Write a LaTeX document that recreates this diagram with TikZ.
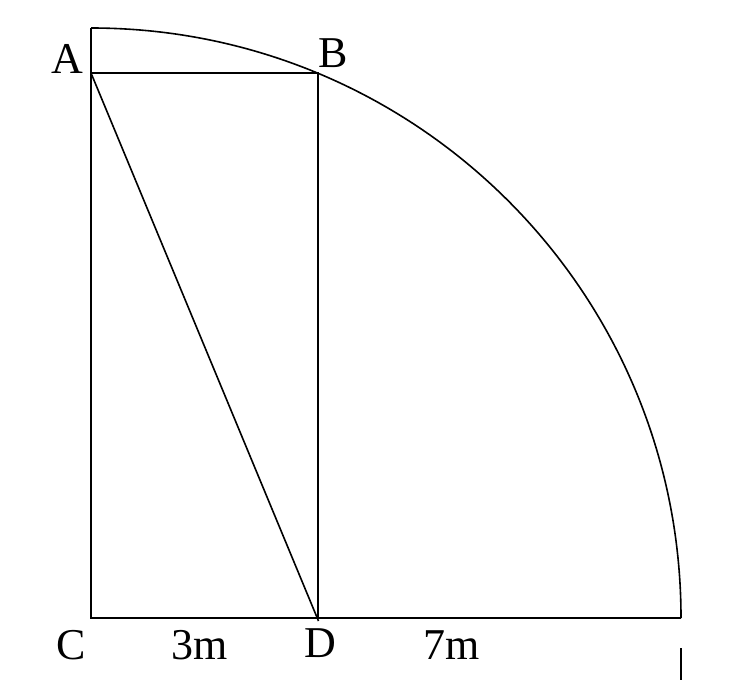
\documentclass[tikz,border=0pt]{standalone}
\usepackage{fontspec}
\setmainfont{Liberation Serif}
\begin{document}
\begin{tikzpicture}[x=1pt,y=-1pt,
  edge/.style={line width=1.6pt,black},
  lbl/.style={inner sep=0pt,anchor=base,font=\fontsize{44}{52}\selectfont}]
\useasboundingbox (0,0) rectangle (738,680);
\coordinate (C) at (91,618);
\coordinate (A) at (91,73);
\coordinate (B) at (318,73);
\coordinate (D) at (318,618);
\coordinate (E) at (681,618);
\coordinate (T) at (91,28);
\coordinate (Dx) at (318.5,621);
\coordinate (K1) at (681,648);
\coordinate (K2) at (681,680);
\draw[edge] (T) -- (C) -- (E);
\draw[edge] (E) arc[start angle=0,end angle=-90,radius=590];
\draw[edge] (A) -- (B) -- (D);
\draw[edge] (A) -- (Dx);
\draw[edge] (K1) -- (K2);
\node[lbl] (lA) at (67.5,73) {A};
\node[lbl] (lB) at (333,67) {B};
\node[lbl] (lC) at (71,659) {C};
\node[lbl] (l3) at (199.5,659) {3m};
\node[lbl] (lD) at (320,657) {D};
\node[lbl] (l7) at (452,659) {7m};
\end{tikzpicture}
\end{document}
